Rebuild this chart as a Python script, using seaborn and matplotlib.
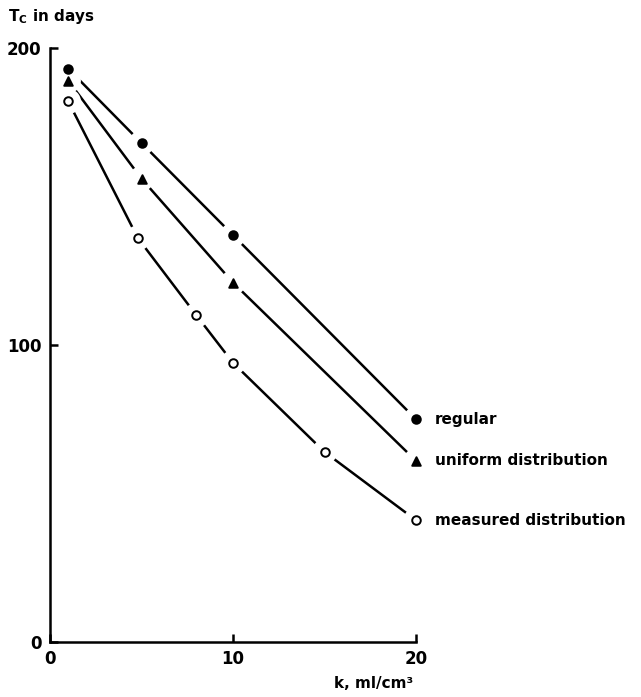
import numpy as np
import matplotlib
matplotlib.use("Agg")
import matplotlib.pyplot as plt
import seaborn as sns

sns.set_style("white")
plt.rcParams['font.family'] = ['DejaVu Sans']
plt.rcParams['font.weight'] = 'bold'
plt.rcParams['mathtext.default'] = 'regular'
plt.rcParams['text.color'] = 'black'
plt.rcParams['xtick.color'] = 'black'
plt.rcParams['ytick.color'] = 'black'

# Datos
k_regular = [1, 5, 10, 20]
tc_regular = [193, 168, 137, 75]

k_uniform = [1, 5, 10, 20]
tc_uniform = [189, 156, 121, 61]

k_measured = [1, 4.8, 8, 10, 15, 20]
tc_measured = [182, 136, 110, 94, 64, 41]

series_labels = ["regular", "uniform distribution", "measured distribution"]
x_ticks = [0, 10, 20]
y_ticks = [0, 100, 200]

fig = plt.figure(figsize=(6.41, 6.97), dpi=100)
ax = fig.add_axes([50 / 641, 55 / 697, 366 / 641, 594 / 697])

series = [
    (k_regular, tc_regular, "o", "black"),
    (k_uniform, tc_uniform, "^", "black"),
    (k_measured, tc_measured, "o", "white"),
]

for (k, tc, marker, face), label in zip(series, series_labels):
    sns.lineplot(x=k, y=tc, ax=ax, color="black", lw=1.8, clip_on=False,
                 zorder=2)
    # huecos blancos alrededor de cada marcador
    sns.scatterplot(x=k, y=tc, ax=ax, marker="o", s=330, color="white",
                    edgecolor="none", clip_on=False, zorder=3)
    sns.scatterplot(x=k, y=tc, ax=ax, marker=marker, s=38, color=face,
                    edgecolor="black", linewidth=1.4, clip_on=False, zorder=4)
    ax.text(k[-1] + 1.05, tc[-1], label, ha="left", va="center",
            fontsize=11, fontweight="bold")

ax.set_xlim(0, 20)
ax.set_ylim(0, 200)
ax.set_xticks(x_ticks)
ax.set_yticks(y_ticks)
ax.tick_params(direction="in", length=6, width=1.8, labelsize=12, pad=6,
               left=True, bottom=True)
for s in ["top", "right"]:
    ax.spines[s].set_visible(False)
for s in ["left", "bottom"]:
    ax.spines[s].set_linewidth(1.8)
    ax.spines[s].set_color("black")

ax.set_xlabel("")
ax.set_ylabel("")
fig.text(8 / 641, 1 - 16 / 697, "$T_C$ in days", ha="left", va="center",
         fontsize=11, fontweight="bold")
fig.text(413 / 641, 1 - 684 / 697, "k, ml/cm³", ha="right", va="center",
         fontsize=11, fontweight="bold")

plt.savefig("out.png", dpi=100)
